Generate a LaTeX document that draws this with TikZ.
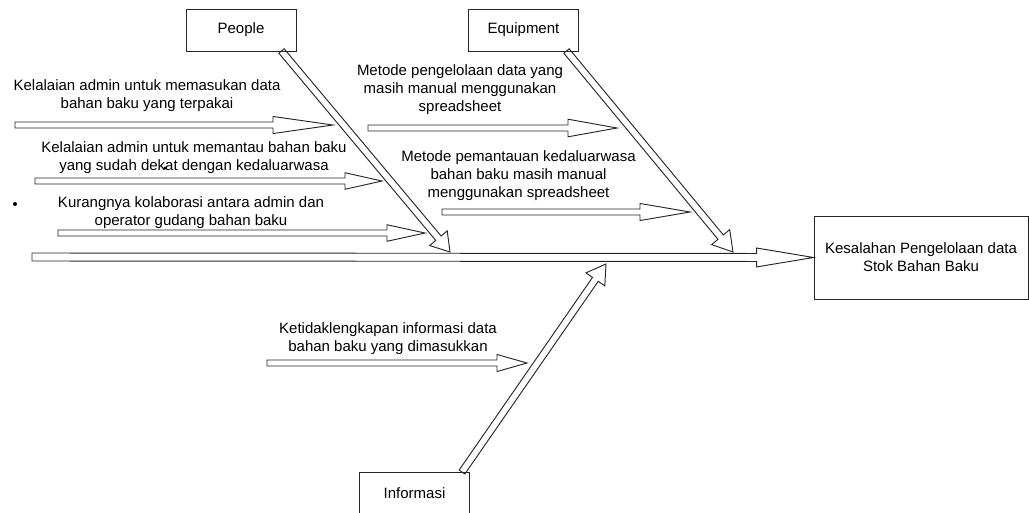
\documentclass[tikz,border=0pt]{standalone}
\usepackage{fontspec}
\setmainfont{Liberation Sans}
\usetikzlibrary{calc}

% hollow block arrow: from, to, head length, head half width, shaft half width
\newcommand{\blockarr}[5]{%
  \path ($(#2)!#3!(#1)$) coordinate (hb);
  \draw[fishline] ($(#1)!#5!90:(#2)$) -- ($(hb)!#5!-90:(#1)$) -- ($(hb)!#4!-90:(#1)$) -- (#2) -- ($(hb)!#4!90:(#1)$) -- ($(hb)!#5!90:(#1)$) -- ($(#1)!#5!-90:(#2)$) -- cycle;
}

\begin{document}
\begin{tikzpicture}[x=0.75pt,y=0.75pt,yscale=-1,xscale=1,
    fishline/.style={draw=black!85,line width=0.7pt,line join=miter},
    catbox/.style={draw=black!85,line width=0.7pt,minimum width=82.5pt,minimum height=31.5pt,inner sep=0pt},
    lbl/.style={align=center,inner sep=0.75pt,font=\fontsize{11.25}{13.5}\selectfont}]
    \clip (0,0) rectangle (1029,512);
    
    %Shape: Rectangle [id:people]
    \node[catbox,font=\fontsize{11.25}{13.5}\selectfont] (people) at (241,30) {People};
    %Shape: Rectangle [id:equipment]
    \node[catbox,font=\fontsize{11.25}{13.5}\selectfont] (equipment) at (523.5,30) {Equipment};
    %Shape: Rectangle [id:informasi]
    \node[catbox,font=\fontsize{11.25}{13.5}\selectfont] (informasi) at (414.5,493) {Informasi};
    %Shape: Rectangle [id:effect]
    \node[draw=black!85,line width=0.7pt,minimum width=160.5pt,minimum height=62.25pt,align=center,inner sep=0pt,font=\fontsize{11.25}{13.5}\selectfont] (effect) at (921,257.5) {Kesalahan Pengelolaan data\\Stok Bahan Baku};
    
    % feet and heads of the bones
    \coordinate (spinetail) at (32,257);
    \coordinate (pplfoot) at (281.5,51);
    \coordinate (pplhead) at (450,252);
    \coordinate (eqpfoot) at (566.5,51);
    \coordinate (eqphead) at (733,252);
    \coordinate (infofoot) at (462,472);
    \coordinate (infohead) at (606,264);
    
    %Straight Lines [id:spine]
    \blockarr{spinetail}{effect.west}{42.75pt}{7.1pt}{3pt}
    %Straight Lines [id:bones]
    \blockarr{pplfoot}{pplhead}{13.5pt}{8.6pt}{2.6pt}
    \blockarr{eqpfoot}{eqphead}{14.5pt}{8.8pt}{2.6pt}
    \blockarr{infofoot}{infohead}{14pt}{8.6pt}{2.6pt}
    
    % Text Node
    \node[lbl] (memasukan) at (147,96) {Kelalaian admin untuk memasukan data\\bahan baku yang terpakai};
    \coordinate (memasukantail) at (15,125);
    \coordinate (memasukanhead) at (333,125);
    \blockarr{memasukantail}{memasukanhead}{45pt}{6.4pt}{2.25pt}
    % Text Node
    \node[lbl] (memantau) at (194,157.5) {Kelalaian admin untuk memantau bahan baku\\yang sudah dekat dengan kedaluarwasa};
    \coordinate (memantautail) at (35,181);
    \coordinate (memantauhead) at (382,181);
    \blockarr{memantautail}{memantauhead}{27.75pt}{6.2pt}{2.25pt}
    % Text Node
    \node[lbl] (kolaborasi) at (191,213) {Kurangnya kolaborasi antara admin dan\\operator gudang bahan baku};
    \coordinate (kolaborasitail) at (58,233);
    \coordinate (kolaborasihead) at (425,233);
    \blockarr{kolaborasitail}{kolaborasihead}{28.5pt}{6.2pt}{2.25pt}
    % Text Node
    \node[lbl] (pengelolaan) at (460,90) {Metode pengelolaan data yang\\masih manual menggunakan\\spreadsheet};
    \coordinate (pengelolaantail) at (368,128);
    \coordinate (pengelolaanhead) at (617,128);
    \blockarr{pengelolaantail}{pengelolaanhead}{36.75pt}{6.6pt}{2.25pt}
    % Text Node
    \node[lbl] (pemantauan) at (518.5,175.5) {Metode pemantauan kedaluarwasa\\bahan baku masih manual\\menggunakan spreadsheet};
    \coordinate (pemantauantail) at (442,212);
    \coordinate (pemantauanhead) at (690,212);
    \blockarr{pemantauantail}{pemantauanhead}{37.5pt}{6.4pt}{2.25pt}
    % Text Node
    \node[lbl] (lengkap) at (388,339) {Ketidaklengkapan informasi data\\bahan baku yang dimasukkan};
    \coordinate (lengkaptail) at (267,363);
    \coordinate (lengkaphead) at (527,363);
    \blockarr{lengkaptail}{lengkaphead}{22.5pt}{6.4pt}{2.25pt}
    
    % stray dots
    \fill (15,204) circle (2);
    \fill (165,168) circle (1.6);
\end{tikzpicture}
\end{document}
